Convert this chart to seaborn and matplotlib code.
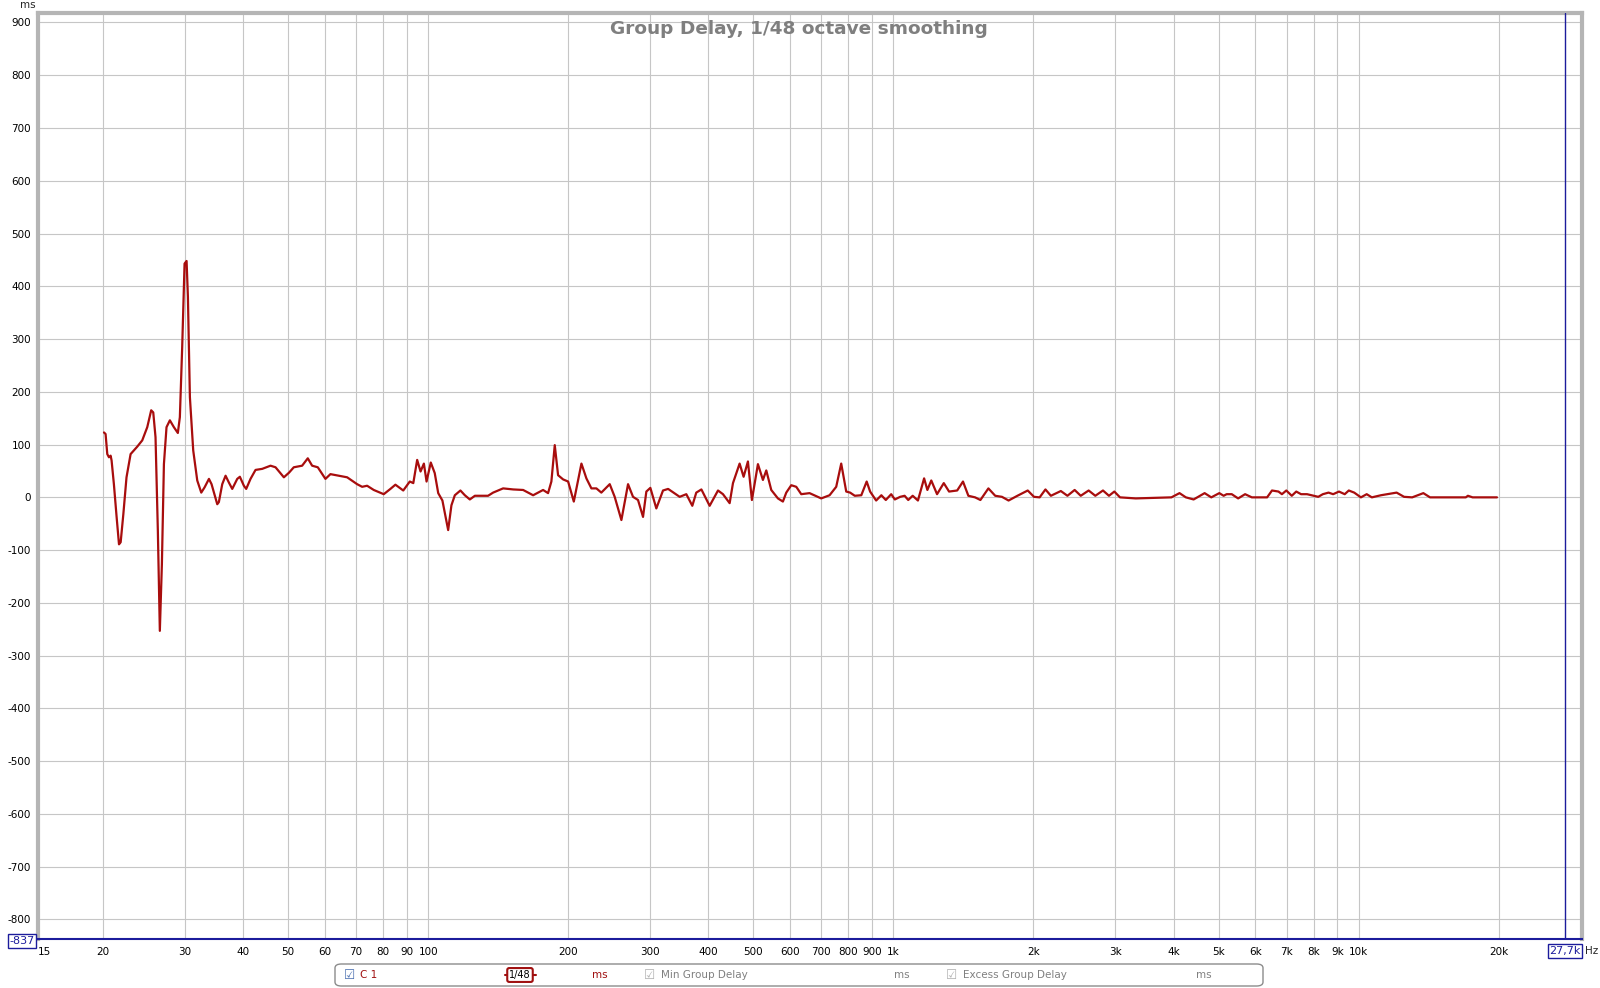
import numpy as np
import pandas as pd
import matplotlib
matplotlib.use("Agg")
import matplotlib.pyplot as plt
from matplotlib.patches import FancyBboxPatch
import seaborn as sns

# ---------------- data ----------------
freq_hz = [
    20.10, 20.26, 20.43, 20.60, 20.77, 20.87, 21.11, 21.40, 21.65, 21.83,
    22.12, 22.47, 22.93, 23.69, 24.29, 24.90, 25.39, 25.65, 25.94, 26.24,
    26.50, 26.77, 27.04, 27.39, 27.85, 28.41, 28.97, 29.26, 29.60, 29.95,
    30.25, 30.45, 30.75, 31.26, 31.89, 32.53, 33.07, 33.79, 34.23, 35.21,
    35.49, 36.09, 36.69, 37.30, 37.92, 38.87, 39.38, 40.17, 40.63, 41.51,
    42.55, 43.98, 45.83, 46.98, 48.96, 50.25, 51.42, 53.59, 55.11, 56.31,
    57.91, 60.14, 61.65, 64.25, 66.96, 70.35, 72.12, 73.92, 76.39, 80.26,
    82.95, 85.03,
    88.4, 91.3, 92.9, 94.7, 96.3, 97.9, 99.2, 101.3, 103.3, 105.1,
    107.3, 110.4, 112.2, 114.1, 117.3, 119.9, 122.9, 126.0, 134.5, 137.9,
    144.9, 152.3, 160.0, 168.1, 176.6, 181.0, 184.0, 187.1, 190.2, 195.0,
    199.9, 205.6, 213.5, 218.8, 224.3, 229.9, 235.6, 245.6, 251.7, 260.2,
    268.9, 275.6, 282.5, 289.6, 294.4, 300.3, 309.3, 319.7, 327.9, 347.2,
    358.8, 369.6, 376.9, 386.6, 402.7, 419.7, 430.2, 444.6, 452.0, 467.1,
    476.4, 486.7, 496.4, 511.4, 524.2, 533.0, 546.3, 564.6, 578.7, 588.4,
    603.1, 618.2, 633.7, 660.3, 699.5, 729.0, 753.4, 772.3, 791.7,
    807, 826, 853, 876, 891, 918, 942, 963, 989, 1007,
    1034, 1057, 1076, 1100, 1129, 1164, 1183, 1206, 1241, 1283,
    1317, 1371, 1411, 1449, 1498, 1538, 1600, 1655, 1711, 1768,
    1847, 1944, 2005, 2062, 2122, 2180, 2290, 2366, 2452, 2527,
    2628, 2716, 2821, 2906, 2984, 3069, 3318, 3621, 3958, 4120,
    4252, 4418, 4665, 4822, 5017, 5126, 5203, 5336, 5507, 5700,
    5894, 6356, 6512, 6723, 6840, 6990, 7181, 7342, 7519, 7745,
    8011, 8186, 8375, 8615, 8813, 9071, 9333, 9523, 9781, 10111,
    10405, 10674, 11166, 12065, 12519, 13032, 13772, 14236, 15552, 16990,
    17172, 17575, 19826,
]
delay_ms = [
    123, 120, 82, 76, 79, 70, 25, -38, -89, -85,
    -32, 38, 82, 96, 108, 133, 165, 161, 114, -63,
    -253, -127, 63, 133, 146, 133, 122, 152, 285, 443,
    448, 380, 190, 89, 32, 9, 19, 35, 25, -13,
    -9, 25, 41, 28, 16, 35, 39, 22, 16, 35,
    52, 54, 60, 57, 38, 47, 57, 60, 74, 60,
    57, 35, 44, 41, 38, 25, 20, 22, 14, 6,
    16, 24,
    13, 30, 27, 71, 49, 64, 30, 66, 46, 8,
    -6, -62, -15, 4, 13, 4, -4, 3, 3, 9,
    17, 15, 14, 4, 14, 8, 30, 99, 42, 34,
    30, -8, 64, 36, 17, 17, 9, 25, 1, -43,
    25, 1, -5, -37, 11, 18, -21, 13, 16, 1,
    6, -16, 9, 15, -16, 13, 6, -11, 27, 64,
    39, 68, -5, 63, 33, 51, 14, -2, -8, 9,
    23, 20, 6, 8, -2, 4, 20, 64, 11,
    9, 3, 4, 30, 11, -6, 4, -5, 6, -4,
    1, 3, -5, 3, -6, 36, 14, 32, 6, 27,
    11, 13, 30, 3, 0, -5, 17, 3, 1, -6,
    3, 13, 1, 0, 15, 3, 12, 3, 14, 3,
    13, 3, 13, 3, 11, 0, -2, -1, 0, 8,
    0, -4, 8, 0, 8, 3, 6, 6, -2, 6,
    0, 0, 13, 11, 6, 13, 3, 11, 6, 6,
    3, 1, 6, 9, 6, 11, 6, 13, 9, 0,
    6, 0, 4, 9, 1, 0, 8, 0, 0, 0,
    3, 0, 0,
]

y_ticks = list(range(-800, 1000, 100))
x_ticks = [15, 20, 30, 40, 50, 60, 70, 80, 90, 100, 200, 300, 400, 500, 600,
           700, 800, 900, 1000, 2000, 3000, 4000, 5000, 6000, 7000, 8000,
           9000, 10000, 20000]
x_tick_labels = ["15", "20", "30", "40", "50", "60", "70", "80", "90", "100",
                 "200", "300", "400", "500", "600", "700", "800", "900", "1k",
                 "2k", "3k", "4k", "5k", "6k", "7k", "8k", "9k", "10k", "20k"]
title = "Group Delay, 1/48 octave smoothing"
cursor_hz = 27700
y_min, y_max = -837, 917
x_min, x_max = 14.5, 30200

df = pd.DataFrame({"freq": freq_hz, "delay": delay_ms})

# ---------------- figure ----------------
sns.set_style("white")
plt.rcParams["font.family"] = ["DejaVu Sans"]

W, H = 1600, 988
fig = plt.figure(figsize=(W / 100, H / 100), dpi=100)
ax = fig.add_axes([38 / W, 1 - 939 / H, (1582 - 38) / W, (939 - 13.5) / H])

grid_c = "#c6c6c6"
for yv in y_ticks:
    ax.axhline(yv, color=grid_c, lw=0.8, zorder=1)
for xv in x_ticks[1:]:
    ax.axvline(xv, color=grid_c, lw=0.8, zorder=1)

sns.lineplot(data=df, x="freq", y="delay", ax=ax, color="#a80d0d",
             linewidth=1.6, estimator=None, sort=False, zorder=3)

ax.set_xscale("log")
ax.set_xlim(x_min, x_max)
ax.set_ylim(y_min, y_max)
ax.set_xticks(x_ticks)
ax.set_xticklabels(x_tick_labels)
ax.minorticks_off()
ax.set_yticks(y_ticks)
ax.set_yticklabels([str(v) for v in y_ticks])
ax.tick_params(axis="both", labelsize=7.5, length=0, colors="black")
ax.tick_params(axis="y", pad=5)
ax.tick_params(axis="x", pad=6)
ax.set_xlabel("")
ax.set_ylabel("")

ax.axvline(cursor_hz, color="#1c1c9c", lw=1.0, zorder=4)

for s in ["left", "top", "right"]:
    ax.spines[s].set_color("#b5b5b5")
    ax.spines[s].set_linewidth(3)
ax.spines["bottom"].set_color("#1c1c9c")
ax.spines["bottom"].set_linewidth(1.5)

# title
fig.text(799 / W, 1 - 29 / H, title, ha="center", va="center",
         fontsize=13.3, fontweight="bold", color="#7f7f7f")

# units
fig.text(28 / W, 1 - 5 / H, "ms", ha="center", va="center", fontsize=7.5)
fig.text(1585 / W, 1 - 951 / H, "Hz", ha="left", va="center", fontsize=7.5)

# boxed cursor values
box = dict(boxstyle="square,pad=0.15", fc="white", ec="#1c1c9c", lw=1)
fig.text(22 / W, 1 - 941 / H, str(y_min), ha="center", va="center",
         fontsize=8, color="#1c1c9c", bbox=box)
fig.text(1565 / W, 1 - 951 / H, "27,7k", ha="center", va="center",
         fontsize=8, color="#1c1c9c", bbox=box)

# legend panel
leg = FancyBboxPatch((335 / W, 1 - 986 / H), (1263 - 335) / W, 22 / H,
                     boxstyle="round,pad=0,rounding_size=0.004",
                     transform=fig.transFigure, fc="white", ec="#8c8c8c", lw=1)
fig.patches.append(leg)
ly = 1 - 975 / H
fig.text(344 / W, ly, "\u2611", ha="left", va="center", fontsize=9, color="#4a6fb0")
fig.text(360 / W, ly, "C 1", ha="left", va="center", fontsize=7.5, color="#a01010")
fig.add_artist(plt.Line2D([505 / W, 536 / W], [ly, ly], transform=fig.transFigure,
                          color="#a01010", lw=1.5))
fig.text(520 / W, ly, "1/48", ha="center", va="center", fontsize=7, color="black",
         bbox=dict(boxstyle="round,pad=0.2", fc="white", ec="#a01010", lw=1.5))
fig.text(592 / W, ly, "ms", ha="left", va="center", fontsize=7.5, color="#a01010")
fig.text(644 / W, ly, "\u2611", ha="left", va="center", fontsize=9, color="#b0b0b0")
fig.text(661 / W, ly, "Min Group Delay", ha="left", va="center", fontsize=7.5, color="#808080")
fig.text(894 / W, ly, "ms", ha="left", va="center", fontsize=7.5, color="#808080")
fig.text(946 / W, ly, "\u2611", ha="left", va="center", fontsize=9, color="#b0b0b0")
fig.text(963 / W, ly, "Excess Group Delay", ha="left", va="center", fontsize=7.5, color="#808080")
fig.text(1196 / W, ly, "ms", ha="left", va="center", fontsize=7.5, color="#808080")

fig.savefig("out.png", dpi=100, facecolor="white")
